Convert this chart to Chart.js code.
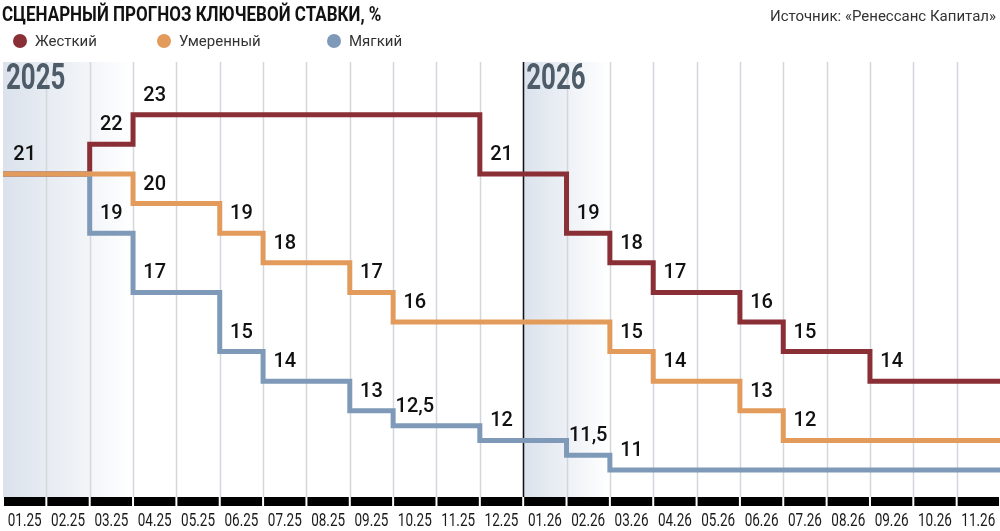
<!DOCTYPE html>
<html><head><meta charset="utf-8">
<script src="https://cdn.jsdelivr.net/npm/chart.js@4/dist/chart.umd.min.js"></script>
<style>html,body{margin:0;padding:0;background:#fff}#w{position:relative;width:1000px;height:531px}</style>
</head><body><div id="w"><canvas id="c" width="1000" height="531"></canvas></div>
<script>
const months=['01.25','02.25','03.25','04.25','05.25','06.25','07.25','08.25','09.25','10.25','11.25','12.25','01.26','02.26','03.26','04.26','05.26','06.26','07.26','08.26','09.26','10.26','11.26'];
const hard=[21,21,22,23,23,23,23,23,23,23,23,21,21,19,18,17,17,16,15,15,14,14,14];
const moderate=[21,21,21,20,20,19,18,18,17,16,16,16,16,16,15,14,14,13,12,12,12,12,12];
const soft=[21,21,19,17,17,15,14,14,13,12.5,12.5,12,12,11.5,11,11,11,11,11,11,11,11,11];
const names=['Жесткий','Умеренный','Мягкий'];
const colors=['#8b2f37','#e39b5b','#7f9ab9'];
const years=[{label:'2025',col:0},{label:'2026',col:12}];

function pts(a){const p=a.map((v,i)=>({x:i,y:v}));p.push({x:a.length,y:a[a.length-1]});return p;}
function fmt(v){return String(v).replace('.',',');}

const deco={id:'deco',
beforeDatasetsDraw(ch){
  const {ctx,chartArea:a,scales:{x}}=ch;
  ctx.save();
  [[0,3],[12,14]].forEach(([s,e])=>{
    const x0=x.getPixelForValue(s),x1=x.getPixelForValue(e);
    const g=ctx.createLinearGradient(x0,0,x1,0);
    g.addColorStop(0,'#dbe2ec');g.addColorStop(1,'#ffffff');
    ctx.fillStyle=g;ctx.fillRect(x0,a.top,x1-x0,a.bottom-a.top);
  });
  ctx.strokeStyle='#d3d7dc';ctx.lineWidth=1.5;
  for(let i=1;i<months.length;i++){const px=Math.round(x.getPixelForValue(i))+0.5;ctx.beginPath();ctx.moveTo(px,a.top);ctx.lineTo(px,a.bottom);ctx.stroke();}
  const yx=Math.round(x.getPixelForValue(12))+0.5;
  ctx.strokeStyle='#111';ctx.lineWidth=1.5;ctx.beginPath();ctx.moveTo(yx,a.top);ctx.lineTo(yx,a.bottom);ctx.stroke();
  ctx.fillStyle='#4d5c68';ctx.textBaseline='top';ctx.textAlign='left';
  years.forEach(y=>{ctx.save();ctx.translate(x.getPixelForValue(y.col)+3,62);ctx.scale(0.72,1);ctx.font='bold 36px Roboto';ctx.fillText(y.label,0,0);ctx.restore();});
  for(let i=0;i<months.length;i++){
    const x0=x.getPixelForValue(i),x1=x.getPixelForValue(i+1);
    ctx.fillStyle='#000';ctx.fillRect(x0+1,a.bottom,x1-x0-2,9);
    ctx.save();ctx.translate((x0+x1)/2,512);ctx.scale(0.75,1);ctx.fillStyle='#1a1a1a';ctx.font='18px Roboto';ctx.textAlign='center';ctx.fillText(months[i],0,0);ctx.restore();
  }
  ctx.restore();
},
afterDatasetsDraw(ch){
  const {ctx,scales:{x,y}}=ch;
  ctx.save();ctx.font='500 20px Roboto';ctx.fillStyle='#111';ctx.textAlign='center';ctx.textBaseline='middle';
  const done=new Set();
  [hard,moderate,soft].forEach(arr=>{
    arr.forEach((v,i)=>{
      if(i>0&&arr[i-1]===v)return;
      const key=i+'_'+v;if(done.has(key))return;done.add(key);
      ctx.fillText(fmt(v),x.getPixelForValue(i+0.5),y.getPixelForValue(v)-19);
    });
  });
  ctx.textAlign='left';ctx.textBaseline='alphabetic';
  ctx.save();ctx.translate(2,21);ctx.scale(0.85,1);ctx.font='bold 20px Roboto';ctx.fillStyle='#111';ctx.fillText('СЦЕНАРНЫЙ ПРОГНОЗ КЛЮЧЕВОЙ СТАВКИ, %',0,0);ctx.restore();
  ctx.textAlign='right';ctx.font='15px Roboto';ctx.fillStyle='#333';ctx.fillText('Источник: «Ренессанс Капитал»',996,21);
  const lx=[20,164,334];
  names.forEach((n,i)=>{ctx.fillStyle=colors[i];ctx.beginPath();ctx.arc(lx[i],41,7,0,Math.PI*2);ctx.fill();
    ctx.fillStyle='#333';ctx.textAlign='left';ctx.font='15px Roboto';ctx.fillText(n,lx[i]+15,46);});
  ctx.restore();
}};

new Chart(document.getElementById('c'),{
  type:'line',
  data:{datasets:[
    {label:names[0],data:pts(hard),borderColor:colors[0],order:3},
    {label:names[2],data:pts(soft),borderColor:colors[2],order:2},
    {label:names[1],data:pts(moderate),borderColor:colors[1],order:1}
  ]},
  options:{responsive:false,animation:false,
    layout:{padding:{top:62,bottom:34,left:3,right:0}},
    elements:{line:{stepped:'before',borderWidth:5,fill:false,borderJoinStyle:'miter',borderCapStyle:'butt'},point:{radius:0}},
    plugins:{legend:{display:false},tooltip:{enabled:false}},
    scales:{x:{type:'linear',min:0,max:months.length,display:false},
            y:{min:10.09,max:24.78,display:false}}
  },
  plugins:[deco]
});
</script></body></html>
